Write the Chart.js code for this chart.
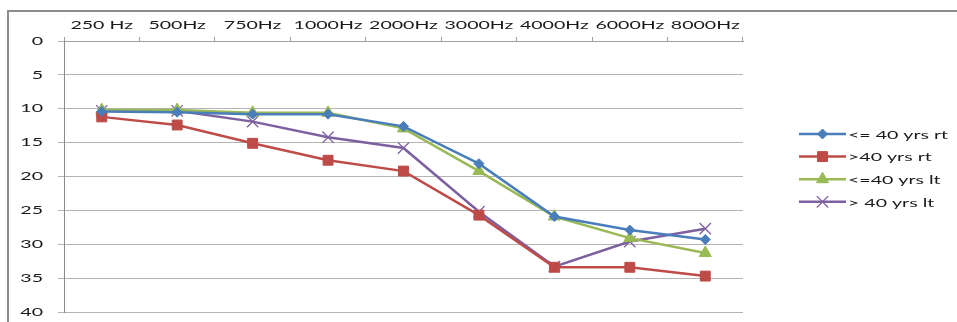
<!DOCTYPE html>
<html>
<head>
<meta charset="utf-8">
<script src="https://cdn.jsdelivr.net/npm/chart.js@4/dist/chart.umd.min.js"></script>
<style>
  html, body { margin: 0; padding: 0; background: #fff; overflow: hidden; }
  #wrap { position: relative; width: 957px; height: 322px; }
  canvas { display: block; }
  #frame {
    position: absolute; left: 7px; top: 10px; width: 1000px; height: 400px;
    border-top: 2px solid #8c8c8c; border-left: 2px solid #8c8c8c;
    pointer-events: none;
  }
</style>
</head>
<body>
<div id="wrap">
  <canvas id="hearingChart" width="957" height="322"></canvas>
  <div id="frame"></div>
</div>
<script>
// frequencies along the top
const freqLabels = ['250 Hz', '500Hz', '750Hz', '1000Hz', '2000Hz', '3000Hz', '4000Hz', '6000Hz', '8000Hz'];

// hearing thresholds (dB) per group
const le40Right = [10.4, 10.5, 10.8, 10.8, 12.6, 18.1, 25.9, 27.9, 29.3];
const gt40Right = [11.2, 12.4, 15.1, 17.6, 19.2, 25.7, 33.4, 33.4, 34.7];
const le40Left = [10.2, 10.2, 10.6, 10.6, 12.9, 19.2, 25.9, 29.1, 31.3];
const gt40Left = [10.3, 10.3, 11.9, 14.2, 15.8, 25.2, 33.3, 29.6, 27.7];

const seriesNames = ['<= 40 yrs rt', '>40 yrs rt', '<=40 yrs lt', '> 40 yrs lt'];

const FONT = { family: 'Lato, sans-serif', size: 11.5 };
const STRETCH = 1.7; // the original text is drawn wide

const ctx = document.getElementById('hearingChart').getContext('2d');

// stretch every label horizontally around its anchor point
const rawFillText = ctx.fillText.bind(ctx);
const rawMeasure = ctx.measureText.bind(ctx);
ctx.fillText = function (text, x, y) {
  this.save();
  this.translate(x, y);
  this.scale(STRETCH, 1);
  rawFillText(text, 0, 0);
  this.restore();
};
ctx.measureText = function (text) {
  const m = rawMeasure(text);
  return {
    width: m.width * STRETCH,
    actualBoundingBoxAscent: m.actualBoundingBoxAscent,
    actualBoundingBoxDescent: m.actualBoundingBoxDescent,
    actualBoundingBoxLeft: m.actualBoundingBoxLeft * STRETCH,
    actualBoundingBoxRight: m.actualBoundingBoxRight * STRETCH
  };
};

// excel style legend: line with the marker in the middle
const lineLegend = {
  id: 'lineLegend',
  afterDraw(chart) {
    const c = chart.ctx;
    const x1 = 799, x2 = 846, top = 134, step = 22.6;
    c.save();
    c.font = '11.5px Lato, sans-serif';
    c.textBaseline = 'middle';
    c.textAlign = 'left';
    chart.data.datasets.forEach((ds, i) => {
      const y = top + i * step;
      c.strokeStyle = ds.borderColor;
      c.lineWidth = 2.5;
      c.beginPath();
      c.moveTo(x1, y);
      c.lineTo(x2, y);
      c.stroke();
      c.fillStyle = ds.pointBackgroundColor;
      c.strokeStyle = ds.pointBorderColor;
      c.lineWidth = ds.pointBorderWidth;
      Chart.helpers.drawPoint(c, {
        pointStyle: ds.pointStyle,
        radius: ds.pointRadius,
        borderWidth: ds.pointBorderWidth,
        rotation: 0
      }, (x1 + x2) / 2, y);
      c.fillStyle = '#1a1a1a';
      c.fillText(ds.label, x2 + 2, y + 1);
    });
    c.restore();
  }
};

function makeSeries(label, data, color, style, radius, bw) {
  return {
    label: label,
    data: data,
    borderColor: color,
    backgroundColor: color,
    borderWidth: 2.5,
    pointStyle: style,
    pointRadius: radius,
    pointHoverRadius: radius,
    pointBackgroundColor: color,
    pointBorderColor: color,
    pointBorderWidth: bw,
    tension: 0,
    fill: false
  };
}

new Chart(ctx, {
  type: 'line',
  data: {
    labels: freqLabels,
    datasets: [
      makeSeries(seriesNames[0], le40Right, '#4a7ebb', 'rectRot', 5, 1),
      makeSeries(seriesNames[1], gt40Right, '#be4b48', 'rect', 7, 1),
      makeSeries(seriesNames[2], le40Left, '#98b954', 'triangle', 7, 1),
      makeSeries(seriesNames[3], gt40Left, '#7d60a0', 'crossRot', 8, 1.3)
    ]
  },
  options: {
    responsive: false,
    animation: false,
    layout: { padding: { left: 0, top: 0, right: 214, bottom: 10 } },
    plugins: {
      legend: { display: false },
      tooltip: { enabled: false }
    },
    scales: {
      x: {
        position: 'top',
        offset: true,
        afterFit(scale) { scale.height = 41; },
        grid: {
          offset: true,
          drawOnChartArea: false,
          drawTicks: true,
          tickLength: 4,
          color: '#a0a0a0'
        },
        border: { display: true, color: '#a0a0a0' },
        ticks: {
          font: FONT,
          color: '#1a1a1a',
          padding: 5,
          maxRotation: 0,
          autoSkip: false
        }
      },
      y: {
        reverse: true,
        min: 0,
        max: 40,
        afterFit(scale) {
          scale.width = 64;
          scale.paddingTop = 0;
          scale.paddingBottom = 0;
        },
        grid: {
          color: '#b4b4b4',
          drawTicks: true,
          tickLength: 6
        },
        border: { display: true, color: '#8c8c8c' },
        ticks: {
          stepSize: 5,
          font: FONT,
          color: '#1a1a1a',
          padding: 15
        }
      }
    }
  },
  plugins: [lineLegend]
});
</script>
</body>
</html>
